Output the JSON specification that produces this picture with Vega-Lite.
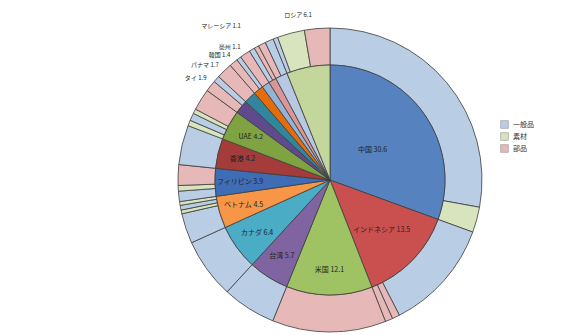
{
  "$schema": "https://vega.github.io/schema/vega-lite/v6.json",
  "autosize": "none",
  "width": 304,
  "height": 264,
  "padding": {"left": 178, "top": 48, "right": 93, "bottom": 23},
  "background": "white",
  "title": {"text": "(b)", "orient": "bottom", "anchor": "end", "frame": "group", "baseline": "top", "font": "DejaVu Serif", "fontSize": 17, "fontWeight": "normal", "color": "#222222", "offset": 1, "dx": -25},
  "config": {"view": {"stroke": null}},
  "datasets": {
    "inner": [
      {"k": 1, "country": "中国", "v": 30.6, "pos": "in"},
      {"k": 2, "country": "インドネシア", "v": 13.5, "pos": "mid"},
      {"k": 3, "country": "米国", "v": 12.1, "pos": "out"},
      {"k": 4, "country": "台湾", "v": 5.7, "pos": "out"},
      {"k": 5, "country": "カナダ", "v": 6.4, "pos": "out"},
      {"k": 6, "country": "ベトナム", "v": 4.5, "pos": "out"},
      {"k": 7, "country": "フィリピン", "v": 3.9, "pos": "out"},
      {"k": 8, "country": "香港", "v": 4.2, "pos": "out"},
      {"k": 9, "country": "UAE", "v": 4.2, "pos": "out"},
      {"k": 10, "country": "タイ", "v": 1.9, "pos": "ext"},
      {"k": 11, "country": "パナマ", "v": 1.7, "pos": "ext"},
      {"k": 12, "country": "韓国", "v": 1.4, "pos": "ext"},
      {"k": 13, "country": "豪州", "v": 1.1, "pos": "ext"},
      {"k": 14, "country": "マレーシア", "v": 1.1, "pos": "far"},
      {"k": 15, "country": "ドイツ", "v": 1.7, "pos": "none"},
      {"k": 16, "country": "ロシア", "v": 6.1, "pos": "top"}
    ],
    "outer": [
      {"k": 1, "cat": "一般品", "v": 27.9},
      {"k": 2, "cat": "素材", "v": 2.7},
      {"k": 3, "cat": "一般品", "v": 11.9},
      {"k": 4, "cat": "部品", "v": 0.8},
      {"k": 5, "cat": "部品", "v": 0.8},
      {"k": 6, "cat": "部品", "v": 12.1},
      {"k": 7, "cat": "一般品", "v": 5.7},
      {"k": 8, "cat": "一般品", "v": 6.4},
      {"k": 9, "cat": "一般品", "v": 3.2},
      {"k": 10, "cat": "素材", "v": 0.4},
      {"k": 11, "cat": "一般品", "v": 0.5},
      {"k": 12, "cat": "素材", "v": 0.4},
      {"k": 13, "cat": "一般品", "v": 1.1},
      {"k": 14, "cat": "素材", "v": 0.6},
      {"k": 15, "cat": "部品", "v": 2.2},
      {"k": 16, "cat": "一般品", "v": 4.2},
      {"k": 17, "cat": "素材", "v": 0.6},
      {"k": 18, "cat": "一般品", "v": 0.8},
      {"k": 19, "cat": "素材", "v": 0.5},
      {"k": 20, "cat": "部品", "v": 2.3},
      {"k": 21, "cat": "部品", "v": 1.2},
      {"k": 22, "cat": "一般品", "v": 0.7},
      {"k": 23, "cat": "部品", "v": 1.7},
      {"k": 24, "cat": "部品", "v": 0.9},
      {"k": 25, "cat": "一般品", "v": 0.5},
      {"k": 26, "cat": "部品", "v": 1.1},
      {"k": 27, "cat": "一般品", "v": 0.6},
      {"k": 28, "cat": "部品", "v": 0.5},
      {"k": 29, "cat": "部品", "v": 0.8},
      {"k": 30, "cat": "一般品", "v": 0.9},
      {"k": 31, "cat": "一般品", "v": 0.5},
      {"k": 32, "cat": "素材", "v": 2.9},
      {"k": 33, "cat": "部品", "v": 2.7}
    ]
  },
  "layer": [
    {
      "data": {"name": "outer"},
      "mark": {"type": "arc", "radius": 152, "radius2": 115, "stroke": "#3c3c3c", "strokeWidth": 0.8},
      "encoding": {
        "theta": {"field": "v", "type": "quantitative", "stack": true},
        "order": {"field": "k", "type": "quantitative"},
        "color": {
          "field": "cat", "type": "nominal",
          "scale": {"domain": ["一般品", "素材", "部品"], "range": ["#B9CDE5", "#D7E4BD", "#E6B9B8"]},
          "legend": {"title": null, "orient": "none", "legendX": 322, "legendY": 72, "symbolType": "square", "symbolSize": 60, "symbolStrokeColor": "#888888", "symbolStrokeWidth": 0.5, "labelFontSize": 7, "labelFont": "Noto Sans CJK JP", "rowPadding": 1, "labelColor": "#333333"}
        }
      }
    },
    {
      "data": {"name": "inner"},
      "mark": {"type": "arc", "radius": 115, "stroke": "#3c3c3c", "strokeWidth": 0.8},
      "encoding": {
        "theta": {"field": "v", "type": "quantitative", "stack": true},
        "order": {"field": "k", "type": "quantitative"},
        "color": {
          "field": "country", "type": "nominal", "legend": null,
          "scale": {
            "domain": ["中国", "インドネシア", "米国", "台湾", "カナダ", "ベトナム", "フィリピン", "香港", "UAE", "タイ", "パナマ", "韓国", "豪州", "マレーシア", "ドイツ", "ロシア"],
            "range": ["#5683C0", "#C9504F", "#9FC262", "#8064A2", "#4BACC6", "#F79646", "#3E6DB5", "#A33C3A", "#7FA342", "#5F4B8B", "#31859C", "#E46C0A", "#95B3D7", "#D99694", "#B7C9E2", "#C3D69B"]
          }
        }
      }
    },
    {
      "data": {"name": "inner"},
      "transform": [{"calculate": "datum.pos == 'in' ? datum.country + ' ' + format(datum.v, '.1f') : ''", "as": "lab"}],
      "mark": {"type": "text", "radius": 52, "fontSize": 7, "font": "Noto Sans CJK JP", "color": "#222222"},
      "encoding": {
        "theta": {"field": "v", "type": "quantitative", "stack": true},
        "order": {"field": "k", "type": "quantitative"},
        "text": {"field": "lab"}
      }
    },
    {
      "data": {"name": "inner"},
      "transform": [{"calculate": "datum.pos == 'mid' ? datum.country + ' ' + format(datum.v, '.1f') : ''", "as": "lab"}],
      "mark": {"type": "text", "radius": 72, "fontSize": 7, "font": "Noto Sans CJK JP", "color": "#222222"},
      "encoding": {
        "theta": {"field": "v", "type": "quantitative", "stack": true},
        "order": {"field": "k", "type": "quantitative"},
        "text": {"field": "lab"}
      }
    },
    {
      "data": {"name": "inner"},
      "transform": [{"calculate": "datum.pos == 'out' ? datum.country + ' ' + format(datum.v, '.1f') : ''", "as": "lab"}],
      "mark": {"type": "text", "radius": 90, "fontSize": 7, "font": "Noto Sans CJK JP", "color": "#222222"},
      "encoding": {
        "theta": {"field": "v", "type": "quantitative", "stack": true},
        "order": {"field": "k", "type": "quantitative"},
        "text": {"field": "lab"}
      }
    },
    {
      "data": {"name": "inner"},
      "transform": [{"calculate": "datum.pos == 'ext' ? datum.country + ' ' + format(datum.v, '.1f') : ''", "as": "lab"}],
      "mark": {"type": "text", "radius": 160, "fontSize": 6, "font": "Noto Sans CJK JP", "color": "#222222", "align": "right"},
      "encoding": {
        "theta": {"field": "v", "type": "quantitative", "stack": true},
        "order": {"field": "k", "type": "quantitative"},
        "text": {"field": "lab"}
      }
    },
    {
      "data": {"name": "inner"},
      "transform": [{"calculate": "datum.pos == 'far' ? datum.country + ' ' + format(datum.v, '.1f') : ''", "as": "lab"}],
      "mark": {"type": "text", "radius": 178, "fontSize": 6, "font": "Noto Sans CJK JP", "color": "#222222", "align": "right"},
      "encoding": {
        "theta": {"field": "v", "type": "quantitative", "stack": true},
        "order": {"field": "k", "type": "quantitative"},
        "text": {"field": "lab"}
      }
    },
    {
      "data": {"name": "inner"},
      "transform": [{"calculate": "datum.pos == 'top' ? datum.country + ' ' + format(datum.v, '.1f') : ''", "as": "lab"}],
      "mark": {"type": "text", "radius": 168, "fontSize": 6, "font": "Noto Sans CJK JP", "color": "#222222", "align": "center"},
      "encoding": {
        "theta": {"field": "v", "type": "quantitative", "stack": true},
        "order": {"field": "k", "type": "quantitative"},
        "text": {"field": "lab"}
      }
    }
  ],
  "resolve": {"scale": {"color": "independent"}, "legend": {"color": "independent"}}
}
